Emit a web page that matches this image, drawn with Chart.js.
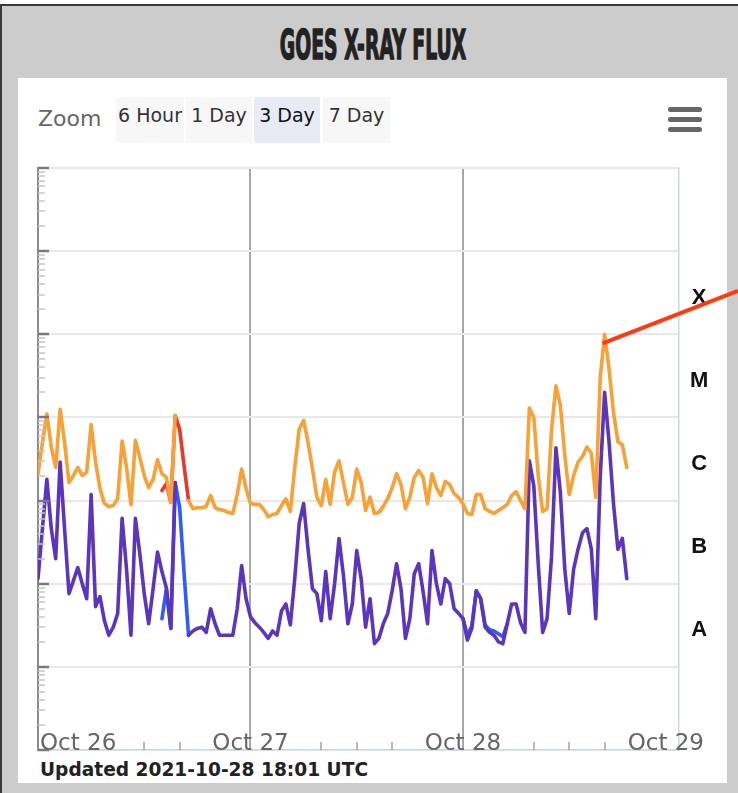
<!DOCTYPE html>
<html>
<head>
<meta charset="utf-8">
<script src="https://cdn.jsdelivr.net/npm/chart.js@4.4.0/dist/chart.umd.min.js"></script>
<style>
  html, body { margin: 0; padding: 0; width: 738px; height: 793px; overflow: hidden; background: #fff; font-family: "DejaVu Sans", sans-serif; }
  #frame { position: absolute; left: 0; top: 4px; width: 780px; height: 820px; background: #cccccc; border-top: 2px solid #3a3a3a; border-left: 2px solid #3a3a3a; box-sizing: border-box; }
  #title { position: absolute; left: 373px; top: 25px; font: bold 40px/40px "DejaVu Sans", sans-serif; color: #222; white-space: nowrap; transform: translateX(-50%) scaleX(0.47); -webkit-text-stroke: 1.5px #222; }
  #panel { position: absolute; left: 18px; top: 78px; width: 709px; height: 705px; background: #fff; }
  #zoomlbl { position: absolute; left: 38px; top: 108px; font: 22px/22px "DejaVu Sans", sans-serif; color: #666; }
  .btn { position: absolute; top: 97px; height: 46px; background: #f7f7f7; text-align: center; font: 19px/19px "DejaVu Sans", sans-serif; color: #333; padding-top: 9px; box-sizing: border-box; white-space: nowrap; }
  .btn.sel { background: #e6ebf5; color: #111; }
  .bar { position: absolute; left: 668px; width: 34px; height: 5px; background: #666; border-radius: 3px; }
  #updated { position: absolute; left: 40px; top: 761px; font: bold 18.6px/18px "DejaVu Sans", sans-serif; color: #222; white-space: nowrap; }
  #xray { position: absolute; left: 0; top: 0; z-index: 5; }
</style>
</head>
<body>
<div id="frame"></div>
<div id="title">GOES X-RAY FLUX</div>
<div id="panel"></div>
<div id="zoomlbl">Zoom</div>
<div class="btn" style="left:116px;width:68px">6 Hour</div>
<div class="btn" style="left:186px;width:66px">1 Day</div>
<div class="btn sel" style="left:254px;width:66px">3 Day</div>
<div class="btn" style="left:323px;width:67px">7 Day</div>
<div class="bar" style="top:107px"></div>
<div class="bar" style="top:117px"></div>
<div class="bar" style="top:127px"></div>
<div id="updated">Updated 2021-10-28 18:01 UTC</div>
<canvas id="xray" width="738" height="793"></canvas>
<script>
// hours since 2021-10-26 00:00 UTC
const hours = [
  0, 0.5, 1, 1.5, 2, 2.5, 3, 3.5, 4, 4.5, 5, 5.5, 6, 6.5, 7, 7.5, 8, 8.5, 9, 9.5,
  10, 10.5, 11, 11.5, 12, 12.5, 13, 13.5, 14, 14.5, 15, 15.5, 16, 16.5, 17, 17.5, 18, 18.5, 19, 19.5,
  20, 20.5, 21, 21.5, 22, 22.5, 23, 23.5, 24, 24.5, 25, 25.5, 26, 26.5, 27, 27.5, 28, 28.5, 29, 29.5,
  30, 30.5, 31, 31.5, 32, 32.5, 33, 33.5, 34, 34.5, 35, 35.5, 36, 36.5, 37, 37.5, 38, 38.5, 39, 39.5,
  40, 40.5, 41, 41.5, 42, 42.5, 43, 43.5, 44, 44.5, 45, 45.5, 46, 46.5, 47, 47.5, 48, 48.5, 49, 49.5,
  50, 50.5, 51, 51.5, 52, 52.5, 53, 53.5, 54, 54.5, 55, 55.5, 56, 56.5, 57, 57.5, 58, 58.5, 59, 59.5,
  60, 60.5, 61, 61.5, 62, 62.5, 63, 63.5, 64, 64.5, 65, 65.5, 66, 66.5
];

// primary satellite, 0.1-0.8 nm (W/m2)
const longFlux = [
  2.1e-6, 5.0e-6, 1.1e-5, 4.4e-6, 2.5e-6, 1.25e-5, 5.0e-6, 1.65e-6, 2.0e-6, 2.5e-6,
  2.0e-6, 2.2e-6, 8.2e-6, 2.9e-6, 1.4e-6, 9.2e-7, 8.5e-7, 8.7e-7, 1.06e-6, 5.2e-6,
  2.5e-6, 8.9e-7, 5.3e-6, 3.3e-6, 2.0e-6, 1.43e-6, 1.8e-6, 3.1e-6, 2.1e-6, 1.9e-6,
  9.5e-7, 1.05e-5, null, null, 1.0e-6, 8.0e-7, 8.2e-7, 8.2e-7, 8.5e-7, 1.15e-6,
  8.2e-7, 7.8e-7, 7.6e-7, 7.2e-7, 7.0e-7, 1.18e-6, 2.4e-6, 1.4e-6, 9.2e-7, 9.0e-7,
  9.0e-7, 7.8e-7, 6.4e-7, 6.8e-7, 7.0e-7, 8.7e-7, 1.05e-6, 7.4e-7, 2.5e-6, 7.2e-6,
  9.2e-6, 5.0e-6, 2.4e-6, 1.09e-6, 8.7e-7, 1.8e-6, 9.0e-7, 2.2e-6, 3.0e-6, 1.65e-6,
  9.0e-7, 1.09e-6, 2.4e-6, 1.65e-6, 7.6e-7, 1.1e-6, 7.0e-7, 7.2e-7, 8.5e-7, 1.06e-6,
  1.43e-6, 2.1e-6, 1.56e-6, 8.0e-7, 1.09e-6, 1.9e-6, 2.3e-6, 1.9e-6, 9.2e-7, 2.1e-6,
  1.43e-6, 1.15e-6, 1.7e-6, 1.56e-6, 1.21e-6, 1.09e-6, 9.2e-7, 7.0e-7, 6.8e-7, 1.18e-6,
  1.18e-6, 8.0e-7, 7.4e-7, 7.0e-7, 7.6e-7, 8.2e-7, 9.0e-7, 1.15e-6, 1.28e-6, 1.0e-6,
  8.0e-7, 1.3e-5, 1.0e-5, 2.0e-6, 7.4e-7, 8.0e-7, 7.0e-6, 2.4e-5, 1.4e-5, 3.5e-6,
  1.18e-6, 2.0e-6, 2.9e-6, 3.4e-6, 4.4e-6, 3.7e-6, 1.09e-6, 3.0e-5, 1.0e-4, 3.8e-5,
  1.15e-5, 5.1e-6, 4.7e-6, 2.5e-6
];

// primary satellite, 0.05-0.4 nm (W/m2)
const shortFlux = [
  1.15e-7, 4.6e-7, 1.8e-6, 4.6e-7, 2.0e-7, 2.9e-6, 4.6e-7, 7.6e-8, 1.09e-7, 1.56e-7,
  1.0e-7, 6.6e-8, 1.18e-6, 5.3e-8, 7.0e-8, 3.6e-8, 2.4e-8, 3.0e-8, 4.4e-8, 6.1e-7,
  1.5e-7, 2.4e-8, 6.1e-7, 2.3e-7, 7.6e-8, 3.3e-8, 8.7e-8, 2.4e-7, 1.4e-7, 8.9e-8,
  2.9e-8, 1.65e-6, null, null, 2.4e-8, 2.7e-8, 2.9e-8, 3.0e-8, 2.6e-8, 5.0e-8,
  3.3e-8, 2.4e-8, 2.4e-8, 2.4e-8, 2.4e-8, 5.0e-8, 1.65e-7, 6.6e-8, 4.0e-8, 3.4e-8,
  3.0e-8, 2.6e-8, 2.2e-8, 2.7e-8, 2.4e-8, 4.7e-8, 5.7e-8, 3.2e-8, 1.15e-7, 5.3e-7,
  9.2e-7, 2.6e-7, 8.7e-8, 7.6e-8, 3.6e-8, 1.4e-7, 3.8e-8, 1.0e-7, 3.5e-7, 1.25e-7,
  3.3e-8, 5.7e-8, 2.5e-7, 1.15e-7, 3.0e-8, 6.6e-8, 1.9e-8, 2.2e-8, 3.3e-8, 4.4e-8,
  8.2e-8, 1.74e-7, 8.7e-8, 2.2e-8, 3.8e-8, 1.32e-7, 1.74e-7, 8.0e-8, 3.3e-8, 2.5e-7,
  1.0e-7, 5.7e-8, 1.15e-7, 1.0e-7, 5.0e-8, 4.4e-8, 3.8e-8, 2.1e-8, 2.9e-8, 8.2e-8,
  6.6e-8, 3.0e-8, 2.6e-8, 2.4e-8, 2.0e-8, 1.9e-8, 3.3e-8, 5.7e-8, 5.7e-8, 3.4e-8,
  2.6e-8, 3.0e-6, 1.5e-6, 1.74e-7, 2.6e-8, 3.8e-8, 2.1e-7, 4.3e-6, 1.25e-6, 1.5e-7,
  4.4e-8, 1.5e-7, 2.6e-7, 4.1e-7, 4.6e-7, 2.6e-7, 3.8e-8, 1.9e-6, 2.0e-5, 5.0e-6,
  9.2e-7, 2.6e-7, 3.5e-7, 1.15e-7
];

// secondary satellite, only where it shows from under the primary
const secHours = [14, 14.5, 15, 15.5, 16, 16.5, 17, 32, 48, 48.5, 49, 49.5, 50, 50.5, 51, 51.5, 52, 52.5, 53];
const secLong = [1.32e-6, 1.6e-6, 9.5e-7, 1.05e-5, 7.2e-6, 2.6e-6, 1.0e-6, null, null, null, null, null, null, null, null, null, null, null, null];
const secShort = [3.8e-8, 8.7e-8, 2.9e-8, 1.65e-6, 8.2e-7, 1.32e-7, 2.4e-8, null, 3.8e-8, 2.4e-8, 3.1e-8, 8.2e-8, 6.6e-8, 3.2e-8, 2.8e-8, 2.7e-8, 2.5e-8, 2.3e-8, 3.3e-8];

const dayHours = [0, 24, 48, 72];
const dayLabels = ['Oct 26', 'Oct 27', 'Oct 28', 'Oct 29'];
const minorHours = [4, 8, 12, 16, 20, 28, 32, 36, 40, 44, 52, 56, 60, 64, 68];
const classLabels = ['A', 'B', 'C', 'M', 'X'];
const classLevels = [1e-8, 1e-7, 1e-6, 1e-5, 1e-4];

const pts = (xs, ys) => xs.map((h, i) => ({x: h, y: ys[i]}));
const isDecade = v => Math.abs(Math.log10(v) - Math.round(Math.log10(v))) < 1e-6;

const decor = {
  id: 'decor',
  afterDraw(chart) {
    const {ctx, chartArea: a, scales: {x, y}} = chart;
    ctx.save();
    // log minor ticks drawn inside the left axis
    y.ticks.forEach(t => {
      const py = Math.round(y.getPixelForValue(t.value));
      const major = isDecade(t.value);
      ctx.strokeStyle = major ? '#7a7a7a' : '#c4c4c4';
      ctx.lineWidth = major ? 2.5 : 1.5;
      ctx.beginPath();
      ctx.moveTo(a.left, py);
      ctx.lineTo(a.left + (major ? 11 : 7), py);
      ctx.stroke();
    });
    // day labels sit on the axis line, inside the plot
    ctx.font = '23px "DejaVu Sans", sans-serif';
    const boxes = dayLabels.map((txt, i) => {
      const w = ctx.measureText(txt).width;
      let left = x.getPixelForValue(dayHours[i]) - w / 2;
      left = Math.max(left, a.left + 2);
      left = Math.min(left, a.right + 25 - w);
      return {left, right: left + w, txt};
    });
    ctx.strokeStyle = '#a0a0a0';
    ctx.lineWidth = 1.5;
    minorHours.forEach(h => {
      const px = Math.round(x.getPixelForValue(h));
      if (boxes.some(b => px > b.left - 3 && px < b.right + 3)) return;
      ctx.beginPath();
      ctx.moveTo(px, a.bottom);
      ctx.lineTo(px, a.bottom - 8);
      ctx.stroke();
    });
    ctx.fillStyle = '#666';
    ctx.textAlign = 'left';
    ctx.textBaseline = 'alphabetic';
    boxes.forEach(b => ctx.fillText(b.txt, b.left, a.bottom));
    // pointer to the flare peak
    const valid = longFlux.filter(v => v !== null);
    const peak = Math.max(...valid);
    const pi = longFlux.indexOf(peak);
    const sx = x.getPixelForValue(hours[pi]) - 2;
    const sy = y.getPixelForValue(peak) + 9;
    ctx.strokeStyle = '#ff3a10';
    ctx.lineWidth = 4;
    ctx.beginPath();
    ctx.moveTo(sx, sy);
    ctx.lineTo(chart.width, sy - 0.387 * (chart.width - sx));
    ctx.stroke();
    ctx.restore();
  }
};

const lineStyle = {pointRadius: 0, borderWidth: 3.6, tension: 0, spanGaps: false, borderJoinStyle: 'round', borderCapStyle: 'round'};

new Chart(document.getElementById('xray'), {
  type: 'line',
  data: {
    datasets: [
      {label: 'Long', data: pts(hours, longFlux), borderColor: '#f7a136', ...lineStyle},
      {label: 'Short', data: pts(hours, shortFlux), borderColor: '#5b35be', ...lineStyle},
      {label: 'Long (secondary)', data: pts(secHours, secLong), borderColor: '#e8372b', ...lineStyle},
      {label: 'Short (secondary)', data: pts(secHours, secShort), borderColor: '#2f5bff', ...lineStyle}
    ]
  },
  options: {
    responsive: false,
    animation: false,
    devicePixelRatio: 1,
    layout: {padding: {left: 38, top: 168, right: 19, bottom: 43}},
    plugins: {legend: {display: false}, tooltip: {enabled: false}},
    scales: {
      x: {
        type: 'linear', min: 0, max: 72.4,
        afterBuildTicks: s => { s.ticks = dayHours.map(v => ({value: v})); },
        afterFit: s => { s.height = 0; },
        ticks: {display: false},
        grid: {
          drawTicks: false, lineWidth: 2,
          color: c => (c.tick && c.tick.value > 0 && c.tick.value < 72) ? '#a8a8a8' : 'rgba(0,0,0,0)'
        },
        border: {color: '#ccd6eb', width: 1.5}
      },
      y: {
        type: 'logarithmic', min: 1e-9, max: 1e-2,
        afterBuildTicks: s => {
          const t = [];
          for (let e = -9; e <= -2; e++) {
            for (let m = 1; m <= 9; m++) {
              const v = m * Math.pow(10, e);
              if (v <= 1e-2 * 1.0001) t.push({value: v});
            }
          }
          s.ticks = t;
        },
        afterFit: s => { s.width = 0; },
        ticks: {display: false},
        grid: {
          drawTicks: false, lineWidth: 2,
          color: c => (c.tick && isDecade(c.tick.value)) ? '#e8e8e8' : 'rgba(0,0,0,0)'
        },
        border: {color: '#8c8c8c', width: 2}
      },
      y1: {
        type: 'logarithmic', position: 'right', min: 1e-9, max: 1e-2,
        afterBuildTicks: s => { s.ticks = classLevels.map(v => ({value: v * Math.sqrt(10)})); },
        afterFit: s => { s.width = 40; },
        ticks: {
          callback: (v, i) => classLabels[i],
          font: {family: 'Liberation Sans', weight: 'bold', size: 22},
          color: '#111', crossAlign: 'center', padding: 11, labelOffset: 5
        },
        grid: {display: false, drawTicks: false},
        border: {display: true, color: '#ccd6eb', width: 1.5}
      }
    }
  },
  plugins: [decor]
});
</script>
</body>
</html>
